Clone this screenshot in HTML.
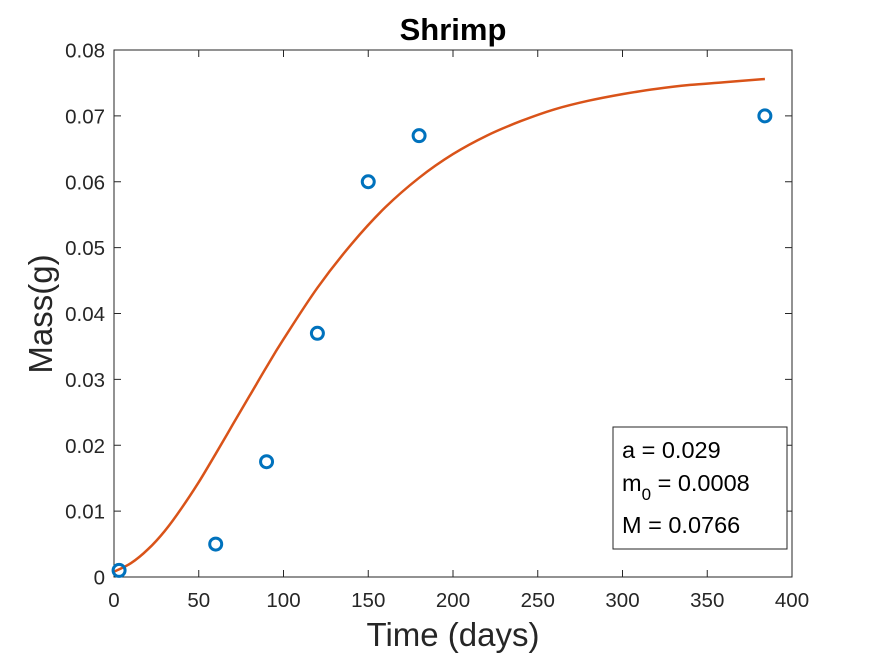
<!DOCTYPE html>
<html><head><meta charset="utf-8"><style>
body{margin:0;background:#fff;font-family:"Liberation Sans",sans-serif;}
svg{display:block}
</style></head><body>
<svg id="chart" width="875" height="656" xmlns="http://www.w3.org/2000/svg">
<rect x="0" y="0" width="875" height="656" fill="#fff"/>
<text x="453" y="40" text-anchor="middle" font-size="31" font-weight="bold" fill="#000">Shrimp</text>
<g id="axes"></g>
<g id="marks"></g>
<text x="453" y="646" text-anchor="middle" font-size="33" fill="#262626">Time (days)</text>
<text transform="translate(52,314) rotate(-90)" text-anchor="middle" font-size="33" fill="#262626">Mass(g)</text>
<g>
<rect x="613" y="427" width="174" height="122" fill="#fff" stroke="#262626" stroke-width="1"/>
<text x="622" y="458" font-size="23.5" fill="#000">a = 0.029</text>
<text x="622" y="491" font-size="23.5" fill="#000">m<tspan font-size="17" dy="9">0</tspan><tspan dy="-9"> = 0.0008</tspan></text>
<text x="622" y="533" font-size="23.5" fill="#000">M = 0.0766</text>
</g>
</svg>
<script>
const xTicks=[0,50,100,150,200,250,300,350,400];
const yTicks=[0,0.01,0.02,0.03,0.04,0.05,0.06,0.07,0.08];
const yTickLabels=["0","0.01","0.02","0.03","0.04","0.05","0.06","0.07","0.08"];
const fitT=[0,10,20,30,40,50,60,70,80,90,100,120,140,160,180,200,220,240,260,280,300,320,340,360,384];
const fitM=[0.0008,0.0021,0.0042,0.0070,0.0105,0.0144,0.0187,0.0231,0.0275,0.0319,0.0361,0.0439,0.0505,0.0561,0.0606,0.0642,0.0670,0.0692,0.0710,0.0723,0.0733,0.0741,0.0747,0.0751,0.0756];
const obsT=[3,60,90,120,150,180,384];
const obsM=[0.001,0.005,0.0175,0.037,0.06,0.067,0.07];
const X0=114,X1=792,Y0=577,Y1=50;
const sx=v=>X0+(v-0)/400*(X1-X0);
const sy=v=>Y0-(v/0.08)*(Y0-Y1);
const NS="http://www.w3.org/2000/svg";
const axes=document.getElementById('axes'),marks=document.getElementById('marks');
function mk(tag,attrs,parent){const e=document.createElementNS(NS,tag);for(const k in attrs)e.setAttribute(k,attrs[k]);parent.appendChild(e);return e;}
const frame=mk('rect',{x:X0,y:Y1,width:X1-X0,height:Y0-Y1,fill:'none',stroke:'#262626','stroke-width':1},axes);


xTicks.forEach(t=>{
  const x=sx(t);
  mk('line',{x1:x,y1:Y0,x2:x,y2:Y0-7,stroke:'#262626'},axes);
  mk('line',{x1:x,y1:Y1,x2:x,y2:Y1+7,stroke:'#262626'},axes);
  const tx=mk('text',{x:x,y:Y0+30,'text-anchor':'middle','font-size':20.5,fill:'#262626'},axes);
  tx.textContent=t;
  
  
});
yTicks.forEach((t,i)=>{
  const y=sy(t);
  mk('line',{x1:X0,y1:y,x2:X0+7,y2:y,stroke:'#262626'},axes);
  mk('line',{x1:X1,y1:y,x2:X1-7,y2:y,stroke:'#262626'},axes);
  const tx=mk('text',{x:X0-9,y:y+7.5,'text-anchor':'end','font-size':20.5,fill:'#262626'},axes);
  tx.textContent=yTickLabels[i];
  
  
});
const P=fitT.map((t,i)=>[sx(t),sy(fitM[i])]);
let d='M'+P[0][0].toFixed(1)+' '+P[0][1].toFixed(1);
for(let i=0;i<P.length-1;i++){
  const p0=P[Math.max(0,i-1)],p1=P[i],p2=P[i+1],p3=P[Math.min(P.length-1,i+2)];
  const c1=[p1[0]+(p2[0]-p0[0])/6,p1[1]+(p2[1]-p0[1])/6];
  const c2=[p2[0]-(p3[0]-p1[0])/6,p2[1]-(p3[1]-p1[1])/6];
  d+='C'+c1[0].toFixed(1)+' '+c1[1].toFixed(1)+' '+c2[0].toFixed(1)+' '+c2[1].toFixed(1)+' '+p2[0].toFixed(1)+' '+p2[1].toFixed(1);
}
const line=mk('path',{d:d,fill:'none',stroke:'#D95319','stroke-width':2.5,'stroke-linejoin':'round'},marks);


obsT.forEach((t,i)=>{
  const c=mk('circle',{cx:sx(t),cy:sy(obsM[i]),r:6,fill:'none',stroke:'#0072BD','stroke-width':3},marks);
  
  
});
</script>
</body></html>
